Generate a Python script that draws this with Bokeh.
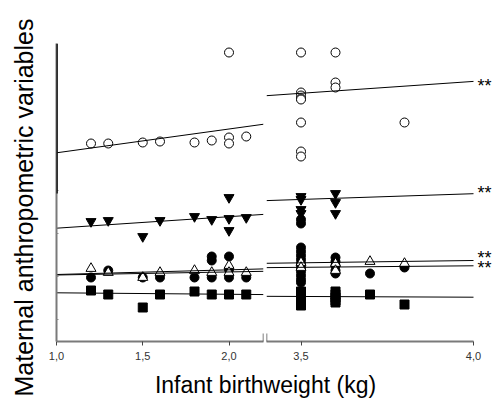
import math
from bokeh.plotting import figure
from bokeh.models import Range1d, FixedTicker, Label, Arrow, CustomJSTickFormatter
from bokeh.layouts import column, row
from bokeh.embed import file_html
from bokeh.resources import INLINE

# ---------------- data (y in arbitrary units; axis carries no scale) ----------------
left_ticks = [1.0, 1.5, 2.0]
right_ticks = [3.5, 4.0]
y_ticks = [22, 65, 108, 151]

# open circles
oc_x = [1.2, 1.3, 1.5, 1.6, 1.8, 1.9, 2.0, 2.0, 2.0, 2.1,
        3.5, 3.5, 3.5, 3.5, 3.5, 3.5, 3.5, 3.5, 3.6, 3.6, 3.6, 3.8]
oc_y = [198, 198, 199, 200, 199, 201, 289, 204, 198, 205,
        289, 249, 246, 243, 242, 219, 190, 185, 289, 259, 254, 219]

# filled inverted triangles
it_x = [1.2, 1.3, 1.5, 1.6, 1.8, 1.9, 2.0, 2.0, 2.0, 2.1,
        3.5, 3.5, 3.5, 3.5, 3.6, 3.6, 3.6]
it_y = [120, 121, 105, 121, 125, 122, 144, 123, 111, 124,
        145, 142, 132, 128, 148, 139, 128]

# open triangles
ot_x = [1.2, 1.3, 1.5, 1.6, 1.8, 1.9, 2.0, 2.0, 2.1,
        3.5, 3.5, 3.6, 3.6, 3.7, 3.8]
ot_y = [73, 69, 64, 69, 71, 69, 76, 69, 69,
        79, 74, 78, 71, 80, 78]

# filled circles
fc_x = [1.2, 1.3, 1.5, 1.6, 1.8, 1.9, 1.9, 1.9, 2.0, 2.0, 2.0, 2.1,
        3.5, 3.5, 3.5, 3.5, 3.5, 3.5, 3.5, 3.5, 3.5, 3.5, 3.5, 3.5,
        3.6, 3.6, 3.6, 3.6, 3.6, 3.7, 3.8]
fc_y = [64, 71, 64, 64, 64, 85, 81, 64, 85, 72, 64, 64,
        122, 118, 94, 90, 86, 82, 78, 74, 70, 66, 62, 59,
        84, 80, 76, 71, 68, 68, 74]

# filled squares
sq_x = [1.2, 1.3, 1.5, 1.6, 1.8, 1.9, 2.0, 2.1,
        3.5, 3.5, 3.5, 3.5, 3.5, 3.5, 3.6, 3.6, 3.6, 3.6, 3.6, 3.7, 3.8]
sq_y = [51, 47, 34, 47, 50, 47, 47, 47,
        50, 47, 44, 41, 38, 36, 50, 47, 44, 41, 39, 47, 37]

# regression lines: value at 1.0 kg and slope per kg; significance marks
line_y_at_1 = [188.7, 113.3, 67.0, 66.5, 48.7]
line_slope = [23.8, 11.5, 4.67, 3.07, -1.47]
line_sig = ["**", "**", "**", "**", ""]
sig_dy = [-1, 5, 6, 2, 0]   # label nudges (px)

FONT = "Liberation Sans"
AXIS_GREY = "#7a7a7a"

series = [
    (sq_x, sq_y, dict(marker="square", size=9, fill_color="black", line_color="black")),
    (fc_x, fc_y, dict(marker="circle", size=9, fill_color="black", line_color="black")),
    (ot_x, ot_y, dict(marker="triangle", size=10, fill_color="white", line_color="black")),
    (it_x, it_y, dict(marker="inverted_triangle", size=10, fill_color="black", line_color="black")),
    (oc_x, oc_y, dict(marker="circle", size=9, fill_color="white", line_color="black")),
]

W, HT = 496, 401
TOP, BOTTOM = 43, 27
FRAME_H = 298
H = TOP + FRAME_H + BOTTOM      # 368
FRAME_W = 207                   # pixel width of each axis segment
P0_W = 40


def style_fig(p):
    p.outline_line_color = None
    p.xgrid.visible = False
    p.ygrid.visible = False
    p.background_fill_color = "white"
    p.border_fill_color = "white"


def make_panel(xr, view_end, ticks, width, border_left, border_right, with_yaxis):
    p = figure(width=width, height=H, x_range=Range1d(xr[0], view_end), y_range=Range1d(0, FRAME_H),
               output_backend="svg", toolbar_location=None,
               y_axis_location="left" if with_yaxis else None,
               min_border_left=border_left, min_border_right=border_right,
               min_border_top=TOP, min_border_bottom=BOTTOM)
    style_fig(p)

    ax = p.xaxis[0]
    ax.bounds = xr
    ax.ticker = FixedTicker(ticks=ticks, minor_ticks=[])
    ax.formatter = CustomJSTickFormatter(code="return tick.toFixed(1).replace('.', ',');")
    ax.axis_line_color = AXIS_GREY
    ax.axis_line_width = 2
    ax.major_tick_line_color = "#444444"
    ax.major_tick_line_width = 1
    ax.major_tick_out = 4
    ax.major_tick_in = 0
    ax.minor_tick_line_color = None
    ax.major_label_standoff = 6
    ax.major_label_text_font = FONT
    ax.major_label_text_font_size = "11px"
    ax.major_label_text_color = "#333333"

    if with_yaxis:
        ay = p.yaxis[0]
        ay.ticker = FixedTicker(ticks=y_ticks, minor_ticks=[])
        ay.formatter = CustomJSTickFormatter(code="return '';")
        ay.axis_line_color = AXIS_GREY
        ay.axis_line_width = 2
        ay.major_tick_in = 2
        ay.major_tick_out = 0
        ay.major_tick_line_color = "#888888"
        ay.minor_tick_line_color = None
        ay.major_label_standoff = 0

    for xs, ys, st in series:
        pts = [(a, b) for a, b in zip(xs, ys) if xr[0] <= a <= xr[1]]
        p.scatter([a for a, _ in pts], [b for _, b in pts], line_width=1, **st)

    for y1, b in zip(line_y_at_1, line_slope):
        xs = [xr[0], xr[1]]
        p.line(xs, [y1 + b * (x - 1.0) for x in xs], line_color="black", line_width=1)
    return p


# left strip holding the y-axis title (full page height, pixel-unit ranges)
p0 = figure(width=P0_W, height=HT, min_border=0, x_axis_location=None, y_axis_location=None,
            output_backend="svg", toolbar_location=None,
            x_range=Range1d(0, P0_W), y_range=Range1d(0, HT))
style_fig(p0)
p0.add_layout(Label(x=23, y=HT - 207, angle=math.pi / 2,
                    text="Maternal anthropometric variables", text_align="center",
                    text_baseline="middle", text_font=FONT, text_font_size="25px",
                    text_color="black"))

P1_W = 16 + FRAME_W + 1
p1 = make_panel((1.0, 2.2), 2.2, left_ticks, P1_W, 16, 1, True)

# right panel: frame extends past 4.0 to leave room for the significance marks
P2_W = W - P0_W - P1_W
p2_frame = P2_W - 2
p2 = make_panel((3.4, 4.0), 3.4 + 0.6 * p2_frame / FRAME_W, right_ticks, P2_W, 2, 0, False)

# thick black upper part of the y axis
p1.add_layout(Arrow(end=None, x_start=1.0, y_start=148, x_end=1.0, y_end=FRAME_H,
                    line_color="black", line_width=2.5))

# axis break marks
p1.add_layout(Arrow(end=None, x_start=2.2, y_start=-8, x_end=2.2, y_end=8,
                    line_color="#555555", line_width=1.5))
p2.add_layout(Arrow(end=None, x_start=3.4, y_start=-8, x_end=3.4, y_end=8,
                    line_color="#555555", line_width=1.5))

# significance marks at the right end of the lines
for y1, b, s, dy in zip(line_y_at_1, line_slope, line_sig, sig_dy):
    if s:
        p2.add_layout(Label(x=4.0, y=y1 + b * 3.0, x_offset=4, y_offset=dy - 4,
                            text=s, text_align="left", text_baseline="middle",
                            text_font=FONT, text_font_size="18px", text_color="black"))

# x-axis title spanning both panels
P3_W = W - P0_W
P3_H = HT - H
p3 = figure(width=P3_W, height=P3_H, min_border=0, x_axis_location=None, y_axis_location=None,
            output_backend="svg", toolbar_location=None,
            x_range=Range1d(0, P3_W), y_range=Range1d(0, P3_H))
style_fig(p3)
p3.add_layout(Label(x=265 - P0_W, y=HT - 384,
                    text="Infant birthweight (kg)", text_align="center",
                    text_baseline="middle", text_font=FONT, text_font_size="23px",
                    text_color="black"))

layout = row(p0, column(row(p1, p2, spacing=0), p3, spacing=0), spacing=0)

with open("out.html", "w") as f:
    f.write(file_html(layout, INLINE))
